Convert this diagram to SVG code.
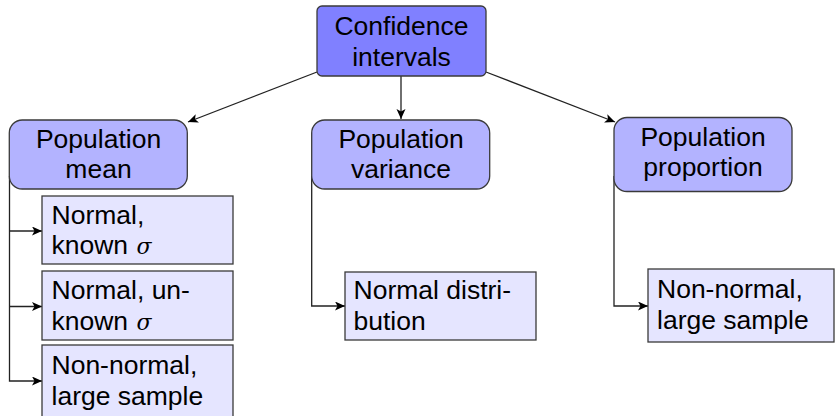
<svg xmlns="http://www.w3.org/2000/svg" width="835" height="416" viewBox="0 0 835 416">
<style>
  .t { font-family: "Liberation Sans", Arial, sans-serif; font-size: 26.5px; fill: #000; }
  .c { text-anchor: middle; }
  .sig { font-family: "DejaVu Serif", "Liberation Serif", serif; font-style: italic; font-size: 22px; }
  .root { fill: #8080ff; stroke: #3a3a3a; stroke-width: 1.3; }
  .mid { fill: #b3b3ff; stroke: #3a3a3a; stroke-width: 1.3; }
  .leaf { fill: #e5e5ff; stroke: #3a3a3a; stroke-width: 1.3; }
  .conn { fill: none; stroke: #222; stroke-width: 1.3; }
</style>
<defs>
  <marker id="arr" markerUnits="userSpaceOnUse" markerWidth="12" markerHeight="10" refX="10" refY="4.5" orient="auto">
    <path d="M0,0 L10,4.5 L0,9 L2.5,4.5 Z" fill="#000"/>
  </marker>
</defs>
<rect width="835" height="416" fill="#fff"/>

<g id="connectors">
  <path class="conn" d="M317,72 L188,122" marker-end="url(#arr)"/>
  <path class="conn" d="M401,76 L401,119" marker-end="url(#arr)"/>
  <path class="conn" d="M486,72 L615,122" marker-end="url(#arr)"/>
  <path class="conn" d="M9.5,176 L9.5,381 L42,381" marker-end="url(#arr)"/>
  <path class="conn" d="M9.5,231 L42,231" marker-end="url(#arr)"/>
  <path class="conn" d="M9.5,306.5 L42,306.5" marker-end="url(#arr)"/>
  <path class="conn" d="M311.7,176 L311.7,306 L345,306" marker-end="url(#arr)"/>
  <path class="conn" d="M614,176 L614,306 L648,306" marker-end="url(#arr)"/>
</g>

<g id="ci">
  <rect class="root" x="317" y="6" width="169" height="70" rx="5"/>
  <text class="t c" x="401.5" y="35">Confidence</text>
  <text class="t c" x="401.5" y="65.5">intervals</text>
</g>

<g id="mean">
  <rect class="mid" x="9.3" y="120" width="178" height="69" rx="13"/>
  <text class="t c" x="98.5" y="147.5">Population</text>
  <text class="t c" x="98.5" y="178">mean</text>
</g>

<g id="variance">
  <rect class="mid" x="311.7" y="120" width="178" height="69" rx="13"/>
  <text class="t c" x="401" y="147.5">Population</text>
  <text class="t c" x="401" y="178">variance</text>
</g>

<g id="proportion">
  <rect class="mid" x="614" y="117.5" width="178" height="74" rx="13"/>
  <text class="t c" x="703" y="145.5">Population</text>
  <text class="t c" x="703" y="176">proportion</text>
</g>

<g id="known">
  <rect class="leaf" x="42" y="196" width="191" height="68"/>
  <text class="t" x="51.5" y="223.5">Normal,</text>
  <text class="t" x="51.5" y="254">known <tspan class="sig" dx="1">σ</tspan></text>
</g>

<g id="unknown">
  <rect class="leaf" x="42" y="271" width="191" height="69"/>
  <text class="t" x="51.5" y="299">Normal, un-</text>
  <text class="t" x="51.5" y="329.5">known <tspan class="sig" dx="1">σ</tspan></text>
</g>

<g id="nonnormal-mean">
  <rect class="leaf" x="42" y="345" width="191" height="80"/>
  <text class="t" x="51.5" y="374">Non-normal,</text>
  <text class="t" x="51.5" y="404.5">large sample</text>
</g>

<g id="normal-dist">
  <rect class="leaf" x="345" y="272" width="191" height="68"/>
  <text class="t" x="353.5" y="299">Normal distri-</text>
  <text class="t" x="353.5" y="329.5">bution</text>
</g>

<g id="nonnormal-prop">
  <rect class="leaf" x="648" y="269" width="186" height="73"/>
  <text class="t" x="657" y="298">Non-normal,</text>
  <text class="t" x="657" y="328.5">large sample</text>
</g>
</svg>
